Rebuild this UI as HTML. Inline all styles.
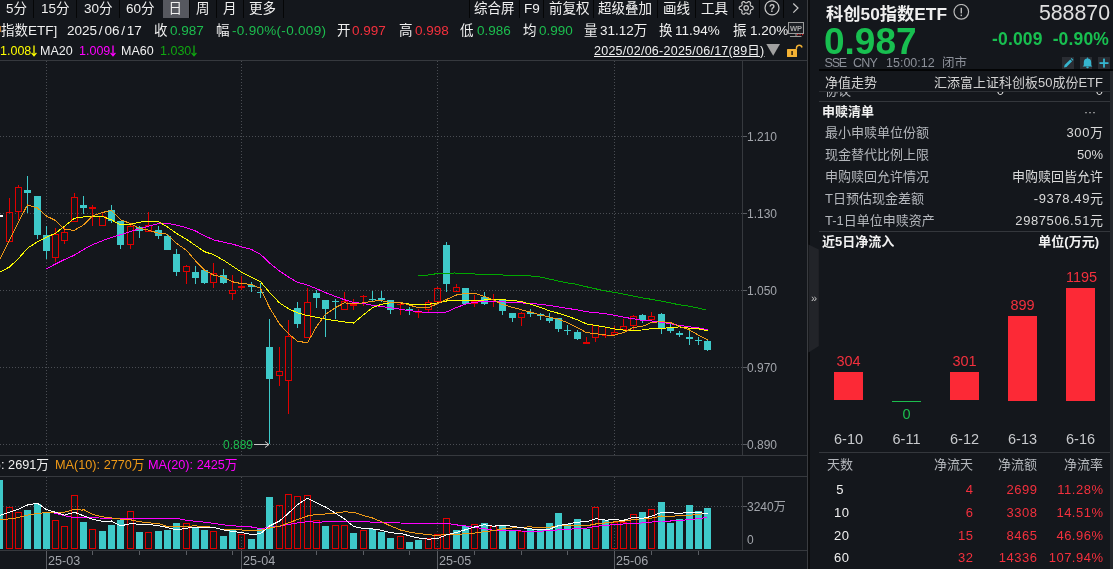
<!DOCTYPE html>
<html><head><meta charset="utf-8">
<style>
*{margin:0;padding:0;box-sizing:border-box}
html,body{width:1113px;height:569px;overflow:hidden;background:#14171c}
body{position:relative;font-family:"Liberation Sans","Noto Sans CJK SC",sans-serif;color:#d6d6d6}
.t{position:absolute;white-space:nowrap;line-height:16px;height:16px;font-size:13.5px}
.sl{margin:0 1.8px}
.ar{vertical-align:-2px;margin-left:-0.5px}
.s{position:absolute;background:#050607;width:1px;top:0;height:18px}
.g{color:#1cbd4e}.r{color:#f3303d}.w{color:#f0f0f0}.y{color:#ffff00}.m{color:#ff00ff}.gg{color:#10a810}
.ax{position:absolute;font-size:12px;line-height:14px;color:#a2a5ab;white-space:nowrap}
#rp{position:absolute;left:810px;top:0;width:303px;height:569px;background:#14171c}
.hl{position:absolute;height:1px;background:#36393e}
.lab{position:absolute;left:15px;font-size:13px;line-height:16px;color:#b4b7bc;white-space:nowrap}
.val{position:absolute;right:10px;font-size:13px;line-height:16px;color:#dadada;white-space:nowrap;text-align:right}

.bl{position:absolute;width:29px;text-align:center;font-size:14.5px;line-height:16px;white-space:nowrap}
.bx{position:absolute;width:29px;text-align:center;font-size:14.5px;line-height:16px;color:#c8cacd;white-space:nowrap}
.th{position:absolute;font-size:13px;line-height:16px;color:#b4b7bc;white-space:nowrap}
.sse{position:absolute;top:55px;font-size:12.5px;line-height:16px;color:#8c9099;white-space:nowrap}
.td{position:absolute;font-size:13px;line-height:16px;white-space:nowrap;letter-spacing:0.5px;margin-right:-0.5px}
</style></head><body>
<!-- top tab row -->
<div class="t" style="left:163px;top:0;width:26px;height:18px;background:#56585f"></div>
<div class="t w" style="left:6px;top:1px">5分</div>
<div class="s" style="left:33px"></div>
<div class="t w" style="left:41px;top:1px">15分</div>
<div class="s" style="left:76px"></div>
<div class="t w" style="left:84px;top:1px">30分</div>
<div class="s" style="left:119px"></div>
<div class="t w" style="left:126px;top:1px">60分</div>
<div class="t w" style="left:168.5px;top:1px">日</div>
<div class="s" style="left:189px"></div>
<div class="t w" style="left:196px;top:1px">周</div>
<div class="s" style="left:216px"></div>
<div class="t w" style="left:223px;top:1px">月</div>
<div class="s" style="left:243px"></div>
<div class="t w" style="left:249px;top:1px">更多</div>
<div class="s" style="left:283px"></div>

<div class="s" style="left:469px"></div>
<div class="t w" style="left:474px;top:1px">综合屏</div>
<div class="s" style="left:519px"></div>
<div class="t w" style="left:524px;top:1px">F9</div>
<div class="s" style="left:543px"></div>
<div class="t w" style="left:549px;top:1px">前复权</div>
<div class="s" style="left:593px"></div>
<div class="t w" style="left:598px;top:1px">超级叠加</div>
<div class="s" style="left:657px"></div>
<div class="t w" style="left:663px;top:1px">画线</div>
<div class="s" style="left:695px"></div>
<div class="t w" style="left:701px;top:1px">工具</div>
<div class="s" style="left:733px"></div>
<div class="s" style="left:759px"></div>
<div class="s" style="left:783px"></div>
<svg style="position:absolute;left:0;top:0" width="810" height="60" viewBox="0 0 810 60">
 <g fill="none" stroke="#c8c8c8" stroke-width="1.2">
  <path d="M753.15,7.90 L753.14,7.66 L753.09,7.42 L753.02,7.18 L752.91,6.96 L752.77,6.74 L752.59,6.54 L752.32,6.37 L751.67,6.33 L751.40,6.21 L751.21,6.08 L751.04,5.94 L750.90,5.81 L750.78,5.67 L750.67,5.52 L750.57,5.38 L750.49,5.22 L750.42,5.05 L750.36,4.88 L750.32,4.68 L750.28,4.48 L750.27,4.24 L750.30,3.95 L750.58,3.36 L750.57,3.05 L750.49,2.79 L750.37,2.56 L750.23,2.35 L750.06,2.17 L749.88,2.01 L749.68,1.88 L749.46,1.77 L749.23,1.69 L748.99,1.64 L748.74,1.62 L748.48,1.63 L748.22,1.69 L747.94,1.84 L747.58,2.38 L747.34,2.55 L747.13,2.65 L746.93,2.73 L746.74,2.78 L746.56,2.82 L746.38,2.84 L746.20,2.85 L746.02,2.84 L745.84,2.82 L745.66,2.78 L745.47,2.73 L745.27,2.65 L745.06,2.55 L744.82,2.38 L744.46,1.84 L744.18,1.69 L743.92,1.63 L743.66,1.62 L743.41,1.64 L743.17,1.69 L742.94,1.77 L742.73,1.88 L742.52,2.01 L742.34,2.17 L742.17,2.35 L742.03,2.56 L741.91,2.79 L741.83,3.05 L741.82,3.36 L742.10,3.95 L742.13,4.24 L742.12,4.48 L742.08,4.68 L742.04,4.88 L741.98,5.05 L741.91,5.22 L741.83,5.38 L741.73,5.52 L741.62,5.67 L741.50,5.81 L741.36,5.94 L741.19,6.08 L741.00,6.21 L740.73,6.33 L740.08,6.37 L739.81,6.54 L739.63,6.74 L739.49,6.96 L739.38,7.18 L739.31,7.42 L739.26,7.66 L739.25,7.90 L739.26,8.14 L739.31,8.38 L739.38,8.62 L739.49,8.84 L739.63,9.06 L739.81,9.26 L740.08,9.43 L740.73,9.47 L741.00,9.59 L741.19,9.72 L741.36,9.86 L741.50,9.99 L741.62,10.13 L741.73,10.28 L741.83,10.43 L741.91,10.58 L741.98,10.75 L742.04,10.92 L742.08,11.12 L742.12,11.32 L742.13,11.56 L742.10,11.85 L741.82,12.44 L741.83,12.75 L741.91,13.01 L742.03,13.24 L742.17,13.45 L742.34,13.63 L742.52,13.79 L742.73,13.92 L742.94,14.03 L743.17,14.11 L743.41,14.16 L743.66,14.18 L743.92,14.17 L744.18,14.11 L744.46,13.96 L744.82,13.42 L745.06,13.25 L745.27,13.15 L745.47,13.07 L745.66,13.02 L745.84,12.98 L746.02,12.96 L746.20,12.95 L746.38,12.96 L746.56,12.98 L746.74,13.02 L746.93,13.07 L747.13,13.15 L747.34,13.25 L747.58,13.42 L747.94,13.96 L748.22,14.11 L748.48,14.17 L748.74,14.18 L748.99,14.16 L749.23,14.11 L749.46,14.03 L749.68,13.92 L749.88,13.79 L750.06,13.63 L750.23,13.45 L750.37,13.24 L750.49,13.01 L750.57,12.75 L750.58,12.44 L750.30,11.85 L750.27,11.56 L750.28,11.32 L750.32,11.12 L750.36,10.92 L750.42,10.75 L750.49,10.58 L750.57,10.43 L750.67,10.28 L750.78,10.13 L750.90,9.99 L751.04,9.86 L751.21,9.72 L751.40,9.59 L751.67,9.47 L752.32,9.43 L752.59,9.26 L752.77,9.06 L752.91,8.84 L753.02,8.62 L753.09,8.38 L753.14,8.14 Z"/>
  <circle cx="746.2" cy="7.9" r="2.2"/>
  <circle cx="772" cy="7.9" r="7"/>
  <polyline points="793.3,3.5 798,8 793.3,12.6"/>
 </g>
 <text x="772" y="11.8" font-size="10" font-weight="bold" fill="#c8c8c8" text-anchor="middle" font-family="Liberation Sans">?</text>
 <!-- WP monitor -->
 <rect x="788.5" y="22.5" width="15" height="11" fill="#1c1f24" stroke="#9a9a9a"/>
 <text x="796" y="31" font-size="7.5" font-weight="bold" fill="#a8a8a8" text-anchor="middle" font-family="Liberation Sans">WP</text>
 <line x1="796" y1="34" x2="796" y2="36" stroke="#9a9a9a"/>
 <line x1="790" y1="36.5" x2="801.5" y2="36.5" stroke="#9a9a9a"/>
 <rect x="797" y="34" width="1.2" height="1.2" fill="#e02020"/><rect x="799.5" y="34" width="1.2" height="1.2" fill="#e02020"/><rect x="802" y="34" width="1.2" height="1.2" fill="#e02020"/>
 <!-- triangle -->
 <polygon points="766.3,44 780,44 773.2,55.7" fill="#a0a0a0"/>
 <!-- lock -->
 <rect x="787" y="49" width="10" height="8" fill="#f4b234" rx="0.5"/>
 <rect x="791.3" y="51" width="1.6" height="4" fill="#3a2a10"/>
 <path d="M796.5,49 L796.5,47.5 A2.8,2.8 0 0 1 802,47.5" fill="none" stroke="#f4b234" stroke-width="1.4"/>
</svg>

<!-- row 2 -->
<div style="position:absolute;left:0;top:26px;width:1px;height:6px;background:#b87020"></div>
<div class="t w" style="left:1px;top:22.5px">指数ETF]</div>
<div class="t w" style="left:67px;top:22.5px">2025<span class="sl">/</span>06<span class="sl">/</span>17</div>
<div class="t w" style="left:154px;top:22.5px">收</div>
<div class="t g" style="left:170px;top:22.5px">0.987</div>
<div class="t w" style="left:216px;top:22.5px">幅</div>
<div class="t g" style="left:232px;top:22.5px;letter-spacing:0.3px">-0.90%(-0.009)</div>
<div class="t w" style="left:337px;top:22.5px">开</div>
<div class="t r" style="left:352px;top:22.5px">0.997</div>
<div class="t w" style="left:399px;top:22.5px">高</div>
<div class="t r" style="left:415px;top:22.5px">0.998</div>
<div class="t w" style="left:460px;top:22.5px">低</div>
<div class="t g" style="left:477px;top:22.5px">0.986</div>
<div class="t w" style="left:523px;top:22.5px">均</div>
<div class="t g" style="left:539px;top:22.5px">0.990</div>
<div class="t w" style="left:584px;top:22.5px">量</div>
<div class="t w" style="left:600px;top:22.5px">31.12万</div>
<div class="t w" style="left:659px;top:22.5px">换</div>
<div class="t w" style="left:675px;top:22.5px">11.94%</div>
<div class="t w" style="left:733px;top:22.5px">振</div>
<div class="t w" style="left:750px;top:22.5px">1.20%</div>

<!-- row 3 -->
<div class="t y" style="left:0;top:42.7px;font-size:12.5px">1.008<svg class="ar" width="6" height="12" viewBox="0 0 6 12"><path d="M3,0.5 V10.8 M0.6,7.8 L3,10.8 L5.4,7.8" fill="none" stroke="currentColor" stroke-width="1.3"/></svg></div>
<div class="t w" style="left:40px;top:42.7px;font-size:12.5px">MA20</div>
<div class="t m" style="left:79px;top:42.7px;font-size:12.5px">1.009<svg class="ar" width="6" height="12" viewBox="0 0 6 12"><path d="M3,0.5 V10.8 M0.6,7.8 L3,10.8 L5.4,7.8" fill="none" stroke="currentColor" stroke-width="1.3"/></svg></div>
<div class="t w" style="left:121px;top:42.7px;font-size:12.5px">MA60</div>
<div class="t gg" style="left:160px;top:42.7px;font-size:12.5px">1.030<svg class="ar" width="6" height="12" viewBox="0 0 6 12"><path d="M3,0.5 V10.8 M0.6,7.8 L3,10.8 L5.4,7.8" fill="none" stroke="currentColor" stroke-width="1.3"/></svg></div>
<div class="t w" style="left:594px;top:42.7px;font-size:12.5px;text-decoration:underline;letter-spacing:0.25px">2025/02/06-2025/06/17(89日)</div>

<!-- chart frame lines -->
<div class="hl" style="left:0;top:60px;width:807px"></div>
<div class="hl" style="left:0;top:455px;width:807px"></div>
<div class="hl" style="left:0;top:476px;width:807px"></div>
<div class="hl" style="left:0;top:550px;width:807px"></div>
<div style="position:absolute;left:742px;top:60px;width:1px;height:395px;background:#36393e"></div>
<div style="position:absolute;left:742px;top:476px;width:1px;height:75px;background:#36393e"></div>
<div style="position:absolute;left:807px;top:0;width:1px;height:569px;background:#3a3c40"></div>
<div style="position:absolute;left:808px;top:0;width:2px;height:569px;background:#0b0c0e"></div>

<svg style="position:absolute;left:0;top:0" width="808" height="569" viewBox="0 0 808 569">
<line x1="0" y1="136.5" x2="743" y2="136.5" stroke="#4a4d53" stroke-width="1" stroke-dasharray="1 2"/>
<line x1="0" y1="213.5" x2="743" y2="213.5" stroke="#4a4d53" stroke-width="1" stroke-dasharray="1 2"/>
<line x1="0" y1="290.5" x2="743" y2="290.5" stroke="#4a4d53" stroke-width="1" stroke-dasharray="1 2"/>
<line x1="0" y1="367.5" x2="743" y2="367.5" stroke="#4a4d53" stroke-width="1" stroke-dasharray="1 2"/>
<line x1="0" y1="444.5" x2="743" y2="444.5" stroke="#4a4d53" stroke-width="1" stroke-dasharray="1 2"/>
<line x1="46.5" y1="61" x2="46.5" y2="455" stroke="#4a4d53" stroke-width="1" stroke-dasharray="1 2"/>
<line x1="46.5" y1="477" x2="46.5" y2="550" stroke="#4a4d53" stroke-width="1" stroke-dasharray="1 2"/>
<line x1="241.5" y1="61" x2="241.5" y2="455" stroke="#4a4d53" stroke-width="1" stroke-dasharray="1 2"/>
<line x1="241.5" y1="477" x2="241.5" y2="550" stroke="#4a4d53" stroke-width="1" stroke-dasharray="1 2"/>
<line x1="437.5" y1="61" x2="437.5" y2="455" stroke="#4a4d53" stroke-width="1" stroke-dasharray="1 2"/>
<line x1="437.5" y1="477" x2="437.5" y2="550" stroke="#4a4d53" stroke-width="1" stroke-dasharray="1 2"/>
<line x1="614.5" y1="61" x2="614.5" y2="455" stroke="#4a4d53" stroke-width="1" stroke-dasharray="1 2"/>
<line x1="614.5" y1="477" x2="614.5" y2="550" stroke="#4a4d53" stroke-width="1" stroke-dasharray="1 2"/>
<line x1="0" y1="506.5" x2="743" y2="506.5" stroke="#4a4d53" stroke-width="1" stroke-dasharray="1 2"/>
<line x1="743" y1="136.5" x2="747" y2="136.5" stroke="#5a5d63" stroke-width="1"/>
<line x1="743" y1="213.5" x2="747" y2="213.5" stroke="#5a5d63" stroke-width="1"/>
<line x1="743" y1="290.5" x2="747" y2="290.5" stroke="#5a5d63" stroke-width="1"/>
<line x1="743" y1="367.5" x2="747" y2="367.5" stroke="#5a5d63" stroke-width="1"/>
<line x1="743" y1="444.5" x2="747" y2="444.5" stroke="#5a5d63" stroke-width="1"/>
<line x1="743" y1="506.5" x2="747" y2="506.5" stroke="#5a5d63" stroke-width="1"/>
<g shape-rendering="crispEdges"><rect x="6.5" y="212.5" width="6" height="29" fill="none" stroke="#e00000"/>
<line x1="9.5" y1="198" x2="9.5" y2="212" stroke="#e00000"/>
<rect x="15.5" y="187.5" width="6" height="24" fill="none" stroke="#e00000"/>
<line x1="18.5" y1="185" x2="18.5" y2="187" stroke="#e00000"/>
<line x1="18.5" y1="212" x2="18.5" y2="220" stroke="#e00000"/>
<rect x="24" y="190" width="7" height="3" fill="#3ec9c9"/>
<line x1="27.5" y1="176" x2="27.5" y2="190" stroke="#3ec9c9"/>
<line x1="27.5" y1="193" x2="27.5" y2="213" stroke="#3ec9c9"/>
<rect x="34" y="196" width="7" height="39" fill="#3ec9c9"/>
<line x1="37.5" y1="235" x2="37.5" y2="239" stroke="#3ec9c9"/>
<rect x="43" y="235" width="7" height="16" fill="#3ec9c9"/>
<line x1="46.5" y1="226" x2="46.5" y2="235" stroke="#3ec9c9"/>
<line x1="46.5" y1="251" x2="46.5" y2="259" stroke="#3ec9c9"/>
<rect x="52.5" y="234.5" width="6" height="23" fill="none" stroke="#e00000"/>
<line x1="55.5" y1="228" x2="55.5" y2="234" stroke="#e00000"/>
<line x1="55.5" y1="258" x2="55.5" y2="262" stroke="#e00000"/>
<rect x="61.5" y="232.5" width="6" height="8" fill="none" stroke="#e00000"/>
<line x1="64.5" y1="227" x2="64.5" y2="232" stroke="#e00000"/>
<line x1="64.5" y1="241" x2="64.5" y2="244" stroke="#e00000"/>
<rect x="71.5" y="197.5" width="6" height="24" fill="none" stroke="#e00000"/>
<line x1="74.5" y1="193" x2="74.5" y2="197" stroke="#e00000"/>
<rect x="80" y="205" width="7" height="3" fill="#3ec9c9"/>
<line x1="83.5" y1="196" x2="83.5" y2="205" stroke="#3ec9c9"/>
<line x1="83.5" y1="208" x2="83.5" y2="214" stroke="#3ec9c9"/>
<rect x="89" y="207" width="7" height="2" fill="#e00000"/>
<line x1="92.5" y1="205" x2="92.5" y2="226" stroke="#e00000"/>
<rect x="99.5" y="216.5" width="6" height="9" fill="none" stroke="#e00000"/>
<line x1="102.5" y1="213" x2="102.5" y2="216" stroke="#e00000"/>
<rect x="108" y="210" width="7" height="11" fill="#3ec9c9"/>
<line x1="111.5" y1="205" x2="111.5" y2="210" stroke="#3ec9c9"/>
<line x1="111.5" y1="221" x2="111.5" y2="223" stroke="#3ec9c9"/>
<rect x="117" y="221" width="7" height="24" fill="#3ec9c9"/>
<line x1="120.5" y1="245" x2="120.5" y2="249" stroke="#3ec9c9"/>
<rect x="127.5" y="226.5" width="6" height="18" fill="none" stroke="#e00000"/>
<line x1="130.5" y1="225" x2="130.5" y2="226" stroke="#e00000"/>
<line x1="130.5" y1="245" x2="130.5" y2="249" stroke="#e00000"/>
<rect x="136" y="227" width="7" height="4" fill="#3ec9c9"/>
<line x1="139.5" y1="226" x2="139.5" y2="227" stroke="#3ec9c9"/>
<line x1="139.5" y1="231" x2="139.5" y2="238" stroke="#3ec9c9"/>
<rect x="145.5" y="225.5" width="6" height="6" fill="none" stroke="#e00000"/>
<line x1="148.5" y1="212" x2="148.5" y2="225" stroke="#e00000"/>
<rect x="155" y="230" width="7" height="6" fill="#3ec9c9"/>
<line x1="158.5" y1="226" x2="158.5" y2="230" stroke="#3ec9c9"/>
<line x1="158.5" y1="236" x2="158.5" y2="239" stroke="#3ec9c9"/>
<rect x="164" y="236" width="7" height="14" fill="#3ec9c9"/>
<line x1="167.5" y1="235" x2="167.5" y2="236" stroke="#3ec9c9"/>
<rect x="173" y="254" width="7" height="18" fill="#3ec9c9"/>
<line x1="176.5" y1="249" x2="176.5" y2="254" stroke="#3ec9c9"/>
<line x1="176.5" y1="272" x2="176.5" y2="276" stroke="#3ec9c9"/>
<rect x="183.5" y="266.5" width="6" height="5" fill="none" stroke="#e00000"/>
<line x1="186.5" y1="265" x2="186.5" y2="266" stroke="#e00000"/>
<line x1="186.5" y1="272" x2="186.5" y2="284" stroke="#e00000"/>
<rect x="192" y="272" width="7" height="6" fill="#3ec9c9"/>
<line x1="195.5" y1="266" x2="195.5" y2="272" stroke="#3ec9c9"/>
<line x1="195.5" y1="278" x2="195.5" y2="284" stroke="#3ec9c9"/>
<rect x="201" y="270" width="7" height="13" fill="#3ec9c9"/>
<line x1="204.5" y1="283" x2="204.5" y2="284" stroke="#3ec9c9"/>
<rect x="210.5" y="273.5" width="6" height="9" fill="none" stroke="#e00000"/>
<line x1="213.5" y1="263" x2="213.5" y2="273" stroke="#e00000"/>
<line x1="213.5" y1="283" x2="213.5" y2="288" stroke="#e00000"/>
<rect x="220" y="275" width="7" height="8" fill="#3ec9c9"/>
<line x1="223.5" y1="269" x2="223.5" y2="275" stroke="#3ec9c9"/>
<line x1="223.5" y1="283" x2="223.5" y2="284" stroke="#3ec9c9"/>
<rect x="229.5" y="290.5" width="6" height="3" fill="none" stroke="#e00000"/>
<line x1="232.5" y1="275" x2="232.5" y2="290" stroke="#e00000"/>
<line x1="232.5" y1="294" x2="232.5" y2="300" stroke="#e00000"/>
<rect x="238" y="286" width="7" height="2" fill="#e00000"/>
<line x1="241.5" y1="276" x2="241.5" y2="290" stroke="#e00000"/>
<rect x="248" y="285" width="7" height="2" fill="#3ec9c9"/>
<line x1="251.5" y1="282" x2="251.5" y2="285" stroke="#3ec9c9"/>
<line x1="251.5" y1="287" x2="251.5" y2="292" stroke="#3ec9c9"/>
<rect x="257" y="292" width="7" height="1" fill="#3ec9c9"/>
<line x1="260.5" y1="283" x2="260.5" y2="298" stroke="#3ec9c9"/>
<rect x="266" y="347" width="7" height="32" fill="#3ec9c9"/>
<line x1="269.5" y1="319" x2="269.5" y2="347" stroke="#3ec9c9"/>
<line x1="269.5" y1="379" x2="269.5" y2="444" stroke="#3ec9c9"/>
<rect x="276.5" y="371.5" width="6" height="4" fill="none" stroke="#e00000"/>
<line x1="279.5" y1="347" x2="279.5" y2="371" stroke="#e00000"/>
<line x1="279.5" y1="376" x2="279.5" y2="386" stroke="#e00000"/>
<rect x="285.5" y="336.5" width="6" height="44" fill="none" stroke="#e00000"/>
<line x1="288.5" y1="320" x2="288.5" y2="336" stroke="#e00000"/>
<line x1="288.5" y1="381" x2="288.5" y2="414" stroke="#e00000"/>
<rect x="294" y="308" width="7" height="16" fill="#3ec9c9"/>
<line x1="297.5" y1="302" x2="297.5" y2="308" stroke="#3ec9c9"/>
<line x1="297.5" y1="324" x2="297.5" y2="328" stroke="#3ec9c9"/>
<rect x="304.5" y="302.5" width="6" height="35" fill="none" stroke="#e00000"/>
<line x1="307.5" y1="288" x2="307.5" y2="302" stroke="#e00000"/>
<rect x="313" y="293" width="7" height="5" fill="#3ec9c9"/>
<line x1="316.5" y1="290" x2="316.5" y2="293" stroke="#3ec9c9"/>
<line x1="316.5" y1="298" x2="316.5" y2="308" stroke="#3ec9c9"/>
<rect x="322" y="300" width="7" height="9" fill="#3ec9c9"/>
<line x1="325.5" y1="309" x2="325.5" y2="337" stroke="#3ec9c9"/>
<rect x="332" y="301" width="7" height="1" fill="#3ec9c9"/>
<line x1="335.5" y1="299" x2="335.5" y2="319" stroke="#3ec9c9"/>
<rect x="341.5" y="301.5" width="6" height="8" fill="none" stroke="#e00000"/>
<line x1="344.5" y1="292" x2="344.5" y2="301" stroke="#e00000"/>
<rect x="350" y="304" width="7" height="2" fill="#e00000"/>
<line x1="353.5" y1="299" x2="353.5" y2="310" stroke="#e00000"/>
<rect x="360" y="296" width="7" height="1" fill="#e00000"/>
<line x1="363.5" y1="295" x2="363.5" y2="306" stroke="#e00000"/>
<rect x="369" y="299" width="7" height="1" fill="#3ec9c9"/>
<line x1="372.5" y1="291" x2="372.5" y2="301" stroke="#3ec9c9"/>
<rect x="378" y="298" width="7" height="2" fill="#3ec9c9"/>
<line x1="381.5" y1="291" x2="381.5" y2="298" stroke="#3ec9c9"/>
<line x1="381.5" y1="300" x2="381.5" y2="302" stroke="#3ec9c9"/>
<rect x="387" y="300" width="7" height="10" fill="#3ec9c9"/>
<line x1="390.5" y1="310" x2="390.5" y2="314" stroke="#3ec9c9"/>
<rect x="397" y="304" width="7" height="1" fill="#e00000"/>
<line x1="400.5" y1="302" x2="400.5" y2="315" stroke="#e00000"/>
<rect x="406" y="309" width="7" height="1" fill="#3ec9c9"/>
<line x1="409.5" y1="307" x2="409.5" y2="315" stroke="#3ec9c9"/>
<rect x="415" y="312" width="7" height="1" fill="#e00000"/>
<line x1="418.5" y1="309" x2="418.5" y2="318" stroke="#e00000"/>
<rect x="425.5" y="302.5" width="6" height="7" fill="none" stroke="#e00000"/>
<line x1="428.5" y1="300" x2="428.5" y2="302" stroke="#e00000"/>
<line x1="428.5" y1="310" x2="428.5" y2="312" stroke="#e00000"/>
<rect x="434.5" y="288.5" width="6" height="13" fill="none" stroke="#e00000"/>
<line x1="437.5" y1="287" x2="437.5" y2="288" stroke="#e00000"/>
<rect x="443" y="245" width="7" height="39" fill="#3ec9c9"/>
<line x1="446.5" y1="242" x2="446.5" y2="245" stroke="#3ec9c9"/>
<line x1="446.5" y1="284" x2="446.5" y2="292" stroke="#3ec9c9"/>
<rect x="453.5" y="287.5" width="6" height="4" fill="none" stroke="#e00000"/>
<line x1="456.5" y1="284" x2="456.5" y2="287" stroke="#e00000"/>
<rect x="462" y="288" width="7" height="16" fill="#3ec9c9"/>
<line x1="465.5" y1="304" x2="465.5" y2="305" stroke="#3ec9c9"/>
<rect x="471.5" y="301.5" width="6" height="2" fill="none" stroke="#e00000"/>
<line x1="474.5" y1="295" x2="474.5" y2="301" stroke="#e00000"/>
<line x1="474.5" y1="304" x2="474.5" y2="307" stroke="#e00000"/>
<rect x="481" y="297" width="7" height="7" fill="#3ec9c9"/>
<line x1="484.5" y1="292" x2="484.5" y2="297" stroke="#3ec9c9"/>
<line x1="484.5" y1="304" x2="484.5" y2="305" stroke="#3ec9c9"/>
<rect x="490" y="301" width="7" height="1" fill="#e00000"/>
<line x1="493.5" y1="294" x2="493.5" y2="307" stroke="#e00000"/>
<rect x="499" y="300" width="7" height="11" fill="#3ec9c9"/>
<line x1="502.5" y1="311" x2="502.5" y2="315" stroke="#3ec9c9"/>
<rect x="509" y="313" width="7" height="5" fill="#3ec9c9"/>
<line x1="512.5" y1="318" x2="512.5" y2="322" stroke="#3ec9c9"/>
<rect x="518.5" y="313.5" width="6" height="4" fill="none" stroke="#e00000"/>
<line x1="521.5" y1="312" x2="521.5" y2="313" stroke="#e00000"/>
<line x1="521.5" y1="318" x2="521.5" y2="326" stroke="#e00000"/>
<rect x="527" y="312" width="7" height="2" fill="#3ec9c9"/>
<line x1="530.5" y1="309" x2="530.5" y2="312" stroke="#3ec9c9"/>
<line x1="530.5" y1="314" x2="530.5" y2="317" stroke="#3ec9c9"/>
<rect x="537" y="314" width="7" height="2" fill="#3ec9c9"/>
<line x1="540.5" y1="313" x2="540.5" y2="314" stroke="#3ec9c9"/>
<line x1="540.5" y1="316" x2="540.5" y2="320" stroke="#3ec9c9"/>
<rect x="546" y="318" width="7" height="3" fill="#3ec9c9"/>
<line x1="549.5" y1="313" x2="549.5" y2="318" stroke="#3ec9c9"/>
<line x1="549.5" y1="321" x2="549.5" y2="323" stroke="#3ec9c9"/>
<rect x="555" y="318" width="7" height="11" fill="#3ec9c9"/>
<line x1="558.5" y1="329" x2="558.5" y2="332" stroke="#3ec9c9"/>
<rect x="564" y="330" width="7" height="1" fill="#3ec9c9"/>
<line x1="567.5" y1="325" x2="567.5" y2="335" stroke="#3ec9c9"/>
<rect x="574" y="332" width="7" height="7" fill="#3ec9c9"/>
<line x1="577.5" y1="330" x2="577.5" y2="332" stroke="#3ec9c9"/>
<line x1="577.5" y1="339" x2="577.5" y2="340" stroke="#3ec9c9"/>
<rect x="583" y="342" width="7" height="2" fill="#e00000"/>
<line x1="586.5" y1="337" x2="586.5" y2="344" stroke="#e00000"/>
<rect x="592.5" y="325.5" width="6" height="12" fill="none" stroke="#e00000"/>
<line x1="595.5" y1="338" x2="595.5" y2="342" stroke="#e00000"/>
<rect x="602" y="335" width="7" height="1" fill="#e00000"/>
<line x1="605.5" y1="328" x2="605.5" y2="338" stroke="#e00000"/>
<rect x="611.5" y="332.5" width="6" height="2" fill="none" stroke="#e00000"/>
<line x1="614.5" y1="326" x2="614.5" y2="332" stroke="#e00000"/>
<rect x="620.5" y="326.5" width="6" height="3" fill="none" stroke="#e00000"/>
<line x1="623.5" y1="319" x2="623.5" y2="326" stroke="#e00000"/>
<rect x="630.5" y="316.5" width="6" height="9" fill="none" stroke="#e00000"/>
<line x1="633.5" y1="315" x2="633.5" y2="316" stroke="#e00000"/>
<line x1="633.5" y1="326" x2="633.5" y2="330" stroke="#e00000"/>
<rect x="639" y="315" width="7" height="5" fill="#3ec9c9"/>
<line x1="642.5" y1="314" x2="642.5" y2="315" stroke="#3ec9c9"/>
<line x1="642.5" y1="320" x2="642.5" y2="323" stroke="#3ec9c9"/>
<rect x="648.5" y="316.5" width="6" height="3" fill="none" stroke="#e00000"/>
<line x1="651.5" y1="312" x2="651.5" y2="316" stroke="#e00000"/>
<rect x="658" y="314" width="7" height="14" fill="#3ec9c9"/>
<line x1="661.5" y1="313" x2="661.5" y2="314" stroke="#3ec9c9"/>
<line x1="661.5" y1="328" x2="661.5" y2="334" stroke="#3ec9c9"/>
<rect x="667" y="328" width="7" height="3" fill="#3ec9c9"/>
<line x1="670.5" y1="324" x2="670.5" y2="328" stroke="#3ec9c9"/>
<line x1="670.5" y1="331" x2="670.5" y2="333" stroke="#3ec9c9"/>
<rect x="676" y="333" width="7" height="2" fill="#3ec9c9"/>
<line x1="679.5" y1="331" x2="679.5" y2="337" stroke="#3ec9c9"/>
<rect x="686" y="337" width="7" height="2" fill="#3ec9c9"/>
<line x1="689.5" y1="331" x2="689.5" y2="345" stroke="#3ec9c9"/>
<rect x="695" y="340" width="7" height="1" fill="#3ec9c9"/>
<line x1="698.5" y1="337" x2="698.5" y2="345" stroke="#3ec9c9"/>
<rect x="704" y="341" width="7" height="9" fill="#3ec9c9"/>
<line x1="707.5" y1="340" x2="707.5" y2="341" stroke="#3ec9c9"/>
<line x1="707.5" y1="350" x2="707.5" y2="351" stroke="#3ec9c9"/>
<rect x="-4" y="480" width="7" height="69" fill="#3ec9c9"/>
<rect x="6.5" y="507.5" width="6" height="41" fill="none" stroke="#e00000"/>
<rect x="15.5" y="512.5" width="6" height="36" fill="none" stroke="#e00000"/>
<rect x="24" y="510" width="7" height="39" fill="#3ec9c9"/>
<rect x="34" y="504" width="7" height="45" fill="#3ec9c9"/>
<rect x="43" y="512" width="7" height="37" fill="#3ec9c9"/>
<rect x="52.5" y="520.5" width="6" height="28" fill="none" stroke="#e00000"/>
<rect x="61.5" y="526.5" width="6" height="22" fill="none" stroke="#e00000"/>
<rect x="71.5" y="495.5" width="6" height="53" fill="none" stroke="#e00000"/>
<rect x="80" y="522" width="7" height="27" fill="#3ec9c9"/>
<rect x="89.5" y="529.5" width="6" height="19" fill="none" stroke="#e00000"/>
<rect x="99" y="531" width="7" height="18" fill="#3ec9c9"/>
<rect x="108" y="525" width="7" height="24" fill="#3ec9c9"/>
<rect x="117" y="520" width="7" height="29" fill="#3ec9c9"/>
<rect x="127.5" y="511.5" width="6" height="37" fill="none" stroke="#e00000"/>
<rect x="136" y="532" width="7" height="17" fill="#3ec9c9"/>
<rect x="145.5" y="532.5" width="6" height="16" fill="none" stroke="#e00000"/>
<rect x="155" y="531" width="7" height="18" fill="#3ec9c9"/>
<rect x="164" y="530" width="7" height="19" fill="#3ec9c9"/>
<rect x="173" y="523" width="7" height="26" fill="#3ec9c9"/>
<rect x="183.5" y="523.5" width="6" height="25" fill="none" stroke="#e00000"/>
<rect x="192" y="528" width="7" height="21" fill="#3ec9c9"/>
<rect x="201" y="530" width="7" height="19" fill="#3ec9c9"/>
<rect x="210.5" y="531.5" width="6" height="17" fill="none" stroke="#e00000"/>
<rect x="220" y="536" width="7" height="13" fill="#3ec9c9"/>
<rect x="229" y="530" width="7" height="19" fill="#3ec9c9"/>
<rect x="238.5" y="534.5" width="6" height="14" fill="none" stroke="#e00000"/>
<rect x="248" y="539" width="7" height="10" fill="#3ec9c9"/>
<rect x="257" y="528" width="7" height="21" fill="#3ec9c9"/>
<rect x="266" y="497" width="7" height="52" fill="#3ec9c9"/>
<rect x="276.5" y="505.5" width="6" height="43" fill="none" stroke="#e00000"/>
<rect x="285.5" y="494.5" width="6" height="54" fill="none" stroke="#e00000"/>
<rect x="294.5" y="496.5" width="6" height="52" fill="none" stroke="#e00000"/>
<rect x="304.5" y="495.5" width="6" height="53" fill="none" stroke="#e00000"/>
<rect x="313.5" y="520.5" width="6" height="28" fill="none" stroke="#e00000"/>
<rect x="322" y="526" width="7" height="23" fill="#3ec9c9"/>
<rect x="332.5" y="525.5" width="6" height="23" fill="none" stroke="#e00000"/>
<rect x="341.5" y="525.5" width="6" height="23" fill="none" stroke="#e00000"/>
<rect x="350" y="533" width="7" height="16" fill="#3ec9c9"/>
<rect x="360.5" y="530.5" width="6" height="18" fill="none" stroke="#e00000"/>
<rect x="369" y="529" width="7" height="20" fill="#3ec9c9"/>
<rect x="378" y="532" width="7" height="17" fill="#3ec9c9"/>
<rect x="387" y="538" width="7" height="11" fill="#3ec9c9"/>
<rect x="397.5" y="536.5" width="6" height="12" fill="none" stroke="#e00000"/>
<rect x="406" y="542" width="7" height="7" fill="#3ec9c9"/>
<rect x="415" y="540" width="7" height="9" fill="#3ec9c9"/>
<rect x="425.5" y="538.5" width="6" height="10" fill="none" stroke="#e00000"/>
<rect x="434.5" y="534.5" width="6" height="14" fill="none" stroke="#e00000"/>
<rect x="443.5" y="518.5" width="6" height="30" fill="none" stroke="#e00000"/>
<rect x="453" y="530" width="7" height="19" fill="#3ec9c9"/>
<rect x="462" y="526" width="7" height="23" fill="#3ec9c9"/>
<rect x="471.5" y="524.5" width="6" height="24" fill="none" stroke="#e00000"/>
<rect x="481" y="523" width="7" height="26" fill="#3ec9c9"/>
<rect x="490.5" y="526.5" width="6" height="22" fill="none" stroke="#e00000"/>
<rect x="499" y="525" width="7" height="24" fill="#3ec9c9"/>
<rect x="509" y="531" width="7" height="18" fill="#3ec9c9"/>
<rect x="518.5" y="531.5" width="6" height="17" fill="none" stroke="#e00000"/>
<rect x="527" y="529" width="7" height="20" fill="#3ec9c9"/>
<rect x="537" y="530" width="7" height="19" fill="#3ec9c9"/>
<rect x="546" y="523" width="7" height="26" fill="#3ec9c9"/>
<rect x="555" y="513" width="7" height="36" fill="#3ec9c9"/>
<rect x="564" y="524" width="7" height="25" fill="#3ec9c9"/>
<rect x="574" y="519" width="7" height="30" fill="#3ec9c9"/>
<rect x="583" y="529" width="7" height="20" fill="#3ec9c9"/>
<rect x="592.5" y="507.5" width="6" height="41" fill="none" stroke="#e00000"/>
<rect x="602" y="520" width="7" height="29" fill="#3ec9c9"/>
<rect x="611.5" y="522.5" width="6" height="26" fill="none" stroke="#e00000"/>
<rect x="620.5" y="522.5" width="6" height="26" fill="none" stroke="#e00000"/>
<rect x="630.5" y="514.5" width="6" height="34" fill="none" stroke="#e00000"/>
<rect x="639" y="512" width="7" height="37" fill="#3ec9c9"/>
<rect x="648.5" y="509.5" width="6" height="39" fill="none" stroke="#e00000"/>
<rect x="658" y="502" width="7" height="47" fill="#3ec9c9"/>
<rect x="667" y="523" width="7" height="26" fill="#3ec9c9"/>
<rect x="676" y="519" width="7" height="30" fill="#3ec9c9"/>
<rect x="686" y="505" width="7" height="44" fill="#3ec9c9"/>
<rect x="695" y="511" width="7" height="38" fill="#3ec9c9"/>
<rect x="704" y="508" width="7" height="41" fill="#3ec9c9"/></g>
<polyline points="418.0,276.0 427.3,275.1 436.5,273.7 445.8,273.2 455.1,273.0 464.4,273.7 473.7,273.8 483.0,274.9 492.2,274.9 501.5,274.9 510.8,275.7 520.1,275.9 529.4,275.9 538.7,276.7 548.0,278.7 557.2,280.8 566.5,282.7 575.8,284.2 585.1,286.5 594.4,288.5 603.7,290.7 612.9,292.1 622.2,293.8 631.5,295.7 640.8,297.7 650.1,299.1 659.3,300.7 668.6,302.6 677.9,304.5 687.2,305.9 696.5,307.7 705.8,309.9" fill="none" stroke="#00a800" stroke-width="1" shape-rendering="crispEdges"/>
<polyline points="46.5,268.7 55.5,264.0 64.5,259.5 74.5,255.1 83.5,249.5 92.5,244.7 102.5,240.7 111.5,237.4 120.5,234.7 130.5,231.5 139.5,228.8 148.5,226.2 158.5,223.6 167.5,223.1 176.5,225.2 186.5,227.7 195.5,231.0 204.5,235.8 213.5,239.8 223.5,242.2 232.5,244.1 241.5,246.8 251.5,249.5 260.5,254.3 269.5,262.9 279.5,271.1 288.5,277.1 297.5,282.3 307.5,285.1 316.5,288.7 325.5,292.6 335.5,296.5 344.5,299.7 353.5,302.4 363.5,303.6 372.5,305.3 381.5,306.4 390.5,307.8 400.5,309.3 409.5,310.6 418.5,311.7 428.5,312.5 437.5,312.5 446.5,312.0 456.5,307.5 465.5,304.1 474.5,302.4 484.5,301.4 493.5,301.3 502.5,301.9 512.5,302.4 521.5,302.9 530.5,303.6 540.5,304.2 549.5,305.5 558.5,306.9 567.5,308.4 577.5,309.9 586.5,311.8 595.5,312.6 605.5,313.8 614.5,315.2 623.5,317.2 633.5,318.8 642.5,320.4 651.5,321.0 661.5,322.3 670.5,323.7 679.5,325.4 689.5,326.8 698.5,327.9 707.5,329.8" fill="none" stroke="#ff00ff" stroke-width="1" shape-rendering="crispEdges"/>
<polyline points="0.0,272.0 9.5,267.0 18.5,258.5 27.5,248.2 37.5,241.8 46.5,237.3 55.5,233.2 64.5,226.3 74.5,218.2 83.5,216.9 92.5,216.1 102.5,216.5 111.5,219.8 120.5,225.0 130.5,224.2 139.5,222.2 148.5,221.3 158.5,221.7 167.5,227.0 176.5,233.4 186.5,239.3 195.5,245.5 204.5,251.7 213.5,254.6 223.5,260.2 232.5,266.1 241.5,272.2 251.5,277.3 260.5,281.7 269.5,292.4 279.5,302.9 288.5,308.7 297.5,312.8 307.5,315.6 316.5,317.2 325.5,319.1 335.5,320.7 344.5,322.0 353.5,323.1 363.5,314.8 372.5,307.7 381.5,304.2 390.5,302.7 400.5,302.9 409.5,304.1 418.5,304.4 428.5,304.3 437.5,303.0 446.5,301.0 456.5,300.1 465.5,300.6 474.5,300.6 484.5,300.0 493.5,299.7 502.5,299.8 512.5,300.4 521.5,301.6 530.5,304.2 540.5,307.5 549.5,310.8 558.5,313.3 567.5,316.2 577.5,319.8 586.5,323.9 595.5,325.4 605.5,327.1 614.5,328.9 623.5,330.1 633.5,330.1 642.5,330.0 651.5,328.7 661.5,328.4 670.5,327.6 679.5,326.9 689.5,328.2 698.5,328.8 707.5,330.7" fill="none" stroke="#ffff00" stroke-width="1" shape-rendering="crispEdges"/>
<polyline points="0.0,258.7 9.5,240.0 18.5,221.8 27.5,204.8 37.5,208.0 46.5,216.1 55.5,220.5 64.5,229.4 74.5,230.3 83.5,224.9 92.5,216.0 102.5,212.5 111.5,210.3 120.5,219.8 130.5,223.5 139.5,228.3 148.5,230.2 158.5,233.2 167.5,234.2 176.5,243.3 186.5,250.4 195.5,260.8 204.5,270.2 213.5,275.0 223.5,277.2 232.5,281.8 241.5,283.6 251.5,284.4 260.5,288.4 269.5,307.6 279.5,323.9 288.5,333.8 297.5,341.2 307.5,342.8 316.5,326.7 325.5,314.3 335.5,307.6 344.5,302.9 353.5,303.5 363.5,302.9 372.5,301.1 381.5,300.8 390.5,302.5 400.5,302.4 409.5,305.2 418.5,307.6 428.5,307.9 437.5,303.5 446.5,299.5 456.5,295.0 465.5,293.5 474.5,293.3 484.5,296.5 493.5,299.9 502.5,304.6 512.5,307.3 521.5,309.8 530.5,312.0 540.5,315.1 549.5,317.1 558.5,319.2 567.5,322.7 577.5,327.6 586.5,332.7 595.5,333.6 605.5,335.0 614.5,335.1 623.5,332.6 633.5,327.4 642.5,326.4 651.5,322.4 661.5,321.7 670.5,322.6 679.5,326.3 689.5,330.0 698.5,335.2 707.5,339.6" fill="none" stroke="#f09a17" stroke-width="1" shape-rendering="crispEdges"/>
<polyline points="46.3,512.3 55.3,513.1 62.8,515.3 71.7,517.1 83.7,517.1 98.6,518.0 125.5,518.3 140.0,518.3 176.5,518.2 186.5,520.3 195.5,521.3 204.5,522.2 213.5,523.3 223.5,524.8 232.5,525.8 241.5,526.4 251.5,527.0 260.5,528.7 269.5,527.4 279.5,526.2 288.5,524.4 297.5,522.9 307.5,521.7 316.5,522.2 325.5,521.9 335.5,521.6 344.5,521.3 353.5,521.4 363.5,521.8 372.5,522.1 381.5,522.3 390.5,522.7 400.5,523.0 409.5,523.3 418.5,523.7 428.5,523.9 437.5,523.7 446.5,523.2 456.5,524.9 465.5,525.9 474.5,527.4 484.5,528.7 493.5,530.3 502.5,530.5 512.5,530.8 521.5,531.0 530.5,531.2 540.5,531.1 549.5,530.7 558.5,529.9 567.5,529.5 577.5,528.5 586.5,528.2 595.5,526.4 605.5,525.4 614.5,524.6 623.5,524.0 633.5,523.8 642.5,522.9 651.5,522.1 661.5,521.0 670.5,521.0 679.5,520.6 689.5,519.6 698.5,518.6 707.5,517.5" fill="none" stroke="#ff00ff" stroke-width="1" shape-rendering="crispEdges"/>
<polyline points="0.0,519.8 14.9,518.3 29.9,514.6 44.8,512.6 59.8,512.8 67.2,511.6 74.7,509.3 82.2,510.1 83.5,509.5 92.5,514.4 102.5,516.8 111.5,518.0 120.5,519.1 130.5,519.8 139.5,521.7 148.5,522.9 158.5,523.3 167.5,526.8 176.5,526.8 186.5,526.2 195.5,525.9 204.5,526.4 213.5,527.5 223.5,529.9 232.5,529.8 241.5,530.0 251.5,530.8 260.5,530.5 269.5,528.0 279.5,526.2 288.5,522.9 297.5,519.5 307.5,516.0 316.5,514.4 325.5,514.0 335.5,513.1 344.5,511.8 353.5,512.3 363.5,515.6 372.5,518.0 381.5,521.7 390.5,525.9 400.5,530.0 409.5,532.1 418.5,533.5 428.5,534.7 437.5,535.6 446.5,534.1 456.5,534.2 465.5,533.9 474.5,533.1 484.5,531.6 493.5,530.6 502.5,528.9 512.5,528.0 521.5,527.4 530.5,526.8 540.5,528.0 549.5,527.2 558.5,526.0 567.5,525.9 577.5,525.5 586.5,525.8 595.5,524.0 605.5,522.9 614.5,521.9 623.5,521.2 633.5,519.6 642.5,518.6 651.5,518.2 661.5,516.0 670.5,516.5 679.5,515.5 689.5,515.3 698.5,514.4 707.5,513.1" fill="none" stroke="#f09a17" stroke-width="1" shape-rendering="crispEdges"/>
<polyline points="0.0,515.3 9.5,512.1 18.5,509.1 27.5,505.0 37.5,503.2 46.5,509.6 55.5,512.3 64.5,515.1 74.5,512.2 83.5,515.8 92.5,519.2 102.5,521.3 111.5,521.0 120.5,525.9 130.5,523.7 139.5,524.2 148.5,524.5 158.5,525.7 167.5,527.6 176.5,529.9 186.5,528.2 195.5,527.3 204.5,527.1 213.5,527.3 223.5,529.9 232.5,531.4 241.5,532.6 251.5,534.4 260.5,533.7 269.5,526.0 279.5,521.0 288.5,513.1 297.5,504.6 307.5,498.2 316.5,502.9 325.5,507.0 335.5,513.2 344.5,519.0 353.5,526.5 363.5,528.4 372.5,529.0 381.5,530.2 390.5,532.8 400.5,533.4 409.5,535.8 418.5,538.0 428.5,539.2 437.5,538.5 446.5,534.9 456.5,532.5 465.5,529.7 474.5,527.0 484.5,524.7 493.5,526.2 502.5,525.3 512.5,526.3 521.5,527.7 530.5,528.9 540.5,529.7 549.5,529.2 558.5,525.6 567.5,524.1 577.5,522.1 586.5,521.8 595.5,518.7 605.5,520.1 614.5,519.7 623.5,520.3 633.5,517.4 642.5,518.4 651.5,516.3 661.5,512.4 670.5,512.7 679.5,513.6 689.5,512.1 698.5,512.5 707.5,513.8" fill="none" stroke="#ffffff" stroke-width="1" shape-rendering="crispEdges"/>
<line x1="46.5" y1="551" x2="46.5" y2="569" stroke="#5a5d63"/>
<line x1="92.5" y1="551" x2="92.5" y2="555" stroke="#5a5d63"/>
<line x1="139.5" y1="551" x2="139.5" y2="555" stroke="#5a5d63"/>
<line x1="186.5" y1="551" x2="186.5" y2="555" stroke="#5a5d63"/>
<line x1="232.5" y1="551" x2="232.5" y2="555" stroke="#5a5d63"/>
<line x1="241.5" y1="551" x2="241.5" y2="569" stroke="#5a5d63"/>
<line x1="269.5" y1="551" x2="269.5" y2="555" stroke="#5a5d63"/>
<line x1="316.5" y1="551" x2="316.5" y2="555" stroke="#5a5d63"/>
<line x1="363.5" y1="551" x2="363.5" y2="555" stroke="#5a5d63"/>
<line x1="409.5" y1="551" x2="409.5" y2="555" stroke="#5a5d63"/>
<line x1="437.5" y1="551" x2="437.5" y2="569" stroke="#5a5d63"/>
<line x1="474.5" y1="551" x2="474.5" y2="555" stroke="#5a5d63"/>
<line x1="521.5" y1="551" x2="521.5" y2="555" stroke="#5a5d63"/>
<line x1="567.5" y1="551" x2="567.5" y2="555" stroke="#5a5d63"/>
<line x1="614.5" y1="551" x2="614.5" y2="569" stroke="#5a5d63"/>
<line x1="651.5" y1="551" x2="651.5" y2="555" stroke="#5a5d63"/>
<line x1="698.5" y1="551" x2="698.5" y2="555" stroke="#5a5d63"/>
<line x1="254" y1="444.5" x2="269" y2="444.5" stroke="#c8c8c8"/><polyline points="265,441.5 269,444.5 265,447.5" fill="none" stroke="#c8c8c8"/>
<rect x="0" y="215" width="3" height="2" fill="#ffffff"/>
</svg>

<!-- axis labels -->
<div class="ax" style="left:747px;top:130px">1.210</div>
<div class="ax" style="left:747px;top:207px">1.130</div>
<div class="ax" style="left:747px;top:284px">1.050</div>
<div class="ax" style="left:747px;top:361px">0.970</div>
<div class="ax" style="left:747px;top:438px">0.890</div>
<div class="ax" style="left:747px;top:500px">3240万</div>
<div class="ax" style="left:747px;top:533px">0</div>
<div class="ax" style="left:48px;top:553.5px;font-size:12.6px">25-03</div>
<div class="ax" style="left:243px;top:553.5px;font-size:12.6px">25-04</div>
<div class="ax" style="left:439px;top:553.5px;font-size:12.6px">25-05</div>
<div class="ax" style="left:616px;top:553.5px;font-size:12.6px">25-06</div>
<div class="ax" style="left:223px;top:438px;color:#1cbd4e">0.889</div>

<!-- volume header -->
<div class="t w" style="right:1064px;top:457px;font-size:12.7px">MA(5): 2691万</div>
<div class="t" style="left:55px;top:457px;font-size:12.7px;color:#f09a17">MA(10): 2770万</div>
<div class="t m" style="left:148px;top:457px;font-size:12.7px">MA(20): 2425万</div>

<!-- right panel -->
<div id="rp">
<div style="position:absolute;left:16px;top:3px;font-size:17.3px;font-weight:bold;line-height:22px;color:#efefef;white-space:nowrap">科创50指数ETF</div>
<svg style="position:absolute;left:143px;top:4px" width="17" height="17" viewBox="0 0 17 17"><circle cx="8.3" cy="7.8" r="7.3" fill="none" stroke="#b8b8b8" stroke-width="1.2"/><rect x="7.6" y="3.8" width="1.4" height="5.6" fill="#b8b8b8"/><rect x="7.6" y="10.6" width="1.4" height="1.5" fill="#b8b8b8"/></svg>
<div style="position:absolute;right:3px;top:0.5px;font-size:21.3px;line-height:24px;color:#e0e0e0;white-space:nowrap">588870</div>
<div style="position:absolute;left:14px;top:21.5px;font-size:37px;font-weight:bold;line-height:40px;color:#18bf50;white-space:nowrap">0.987</div>
<div style="position:absolute;right:4px;top:29px;font-size:17.5px;letter-spacing:0.15px;font-weight:bold;line-height:20px;color:#18bf50;white-space:nowrap">-0.009&nbsp;&nbsp;-0.90%</div>
<div class="sse" style="left:14.5px;letter-spacing:-1.2px">SSE</div><div class="sse" style="left:43px;letter-spacing:-0.8px">CNY</div><div class="sse" style="left:76px">15:00:12</div><div class="sse" style="left:132px">闭市</div>
<div style="position:absolute;left:252px;top:57px;width:12px;height:12px;background:#2a2d33"></div>
<div style="position:absolute;left:270px;top:57px;width:12px;height:12px;background:#2a2d33"></div>
<div style="position:absolute;left:288px;top:57px;width:12px;height:12px;background:#2a2d33"></div>
<svg style="position:absolute;left:252px;top:57px" width="48" height="12" viewBox="0 0 48 12">
 <path d="M2,10.5 L2.6,8 L8.2,2.4 L10.1,4.3 L4.5,9.9 Z" fill="#36b6d0"/><path d="M8.8,1.8 L9.6,1 L11.5,2.9 L10.7,3.7 Z" fill="#36b6d0"/>
 <path d="M20.6,9.6 L21.8,8.2 L21.8,5.4 A3.7,3.9 0 0 1 29.2,5.4 L29.2,8.2 L30.4,9.6 Z" fill="#36b6d0"/><rect x="24.3" y="9.6" width="2.4" height="1.6" rx="0.8" fill="#36b6d0"/><rect x="24.9" y="0.6" width="1.2" height="1.2" fill="#36b6d0"/>
 <rect x="37.5" y="5.2" width="9" height="1.8" fill="#36b6d0"/><rect x="41.1" y="1.6" width="1.8" height="9" fill="#36b6d0"/>
</svg>
<div style="position:absolute;left:9px;top:69px;width:294px;height:2px;background:#030405"></div>
<div style="position:absolute;left:300px;top:71px;width:3px;height:498px;background:#25272b"></div>

<div style="position:absolute;left:15px;top:75px;font-size:13px;line-height:16px;color:#d2d2d2;white-space:nowrap">净值走势</div>
<div style="position:absolute;right:10px;top:75px;font-size:13px;line-height:16px;color:#d2d2d2;white-space:nowrap">汇添富上证科创板50成份ETF</div>
<div class="hl" style="left:9px;top:91px;width:291px;background:#2c2f34"></div>
<div style="position:absolute;left:9px;top:92px;width:291px;height:9px;overflow:hidden">
 <div style="position:absolute;left:6px;top:-9px;font-size:13px;line-height:16px;color:#b4b7bc;white-space:nowrap">协议</div>
 <div style="position:absolute;right:106px;top:-9px;font-size:13px;line-height:16px;color:#dadada">0</div>
 <div style="position:absolute;right:7px;top:-9px;font-size:13px;line-height:16px;color:#dadada">0</div>
</div>
<div class="hl" style="left:9px;top:101px;width:291px;background:#34373c"></div>
<div style="position:absolute;left:12px;top:104px;font-size:13px;font-weight:bold;line-height:16px;color:#f2f2f2;white-space:nowrap">申赎清单</div>
<div style="position:absolute;left:274px;top:104px;font-size:12px;line-height:16px;color:#d0d0d0">···</div>
<div class="lab" style="top:125px">最小申赎单位份额</div><div class="val" style="top:125px;letter-spacing:0.6px;margin-right:-0.6px">300万</div>
<div class="lab" style="top:147px">现金替代比例上限</div><div class="val" style="top:147px">50%</div>
<div class="lab" style="top:169px">申购赎回允许情况</div><div class="val" style="top:169px">申购赎回皆允许</div>
<div class="lab" style="top:191px">T日预估现金差额</div><div class="val" style="top:191px;letter-spacing:0.6px;margin-right:-0.6px">-9378.49元</div>
<div class="lab" style="top:213px">T-1日单位申赎资产</div><div class="val" style="top:213px;letter-spacing:0.6px;margin-right:-0.6px">2987506.51元</div>
<div class="hl" style="left:9px;top:231px;width:291px;background:#34373c"></div>
<div style="position:absolute;left:12px;top:234px;font-size:13px;font-weight:bold;line-height:16px;color:#f2f2f2;white-space:nowrap">近5日净流入</div>
<div style="position:absolute;right:14px;top:234px;font-size:13px;font-weight:bold;line-height:16px;color:#f2f2f2;white-space:nowrap">单位(万元)</div>
<!-- bars -->
<div style="position:absolute;left:24px;top:372px;width:29px;height:28px;background:#fc2936"></div>
<div style="position:absolute;left:82px;top:401px;width:29px;height:1px;background:#1cbd4e"></div>
<div style="position:absolute;left:140px;top:372px;width:29px;height:28px;background:#fc2936"></div>
<div style="position:absolute;left:198px;top:316px;width:29px;height:85px;background:#fc2936"></div>
<div style="position:absolute;left:256px;top:288px;width:29px;height:113px;background:#fc2936"></div>
<div class="bl r" style="left:24px;top:353px">304</div>
<div class="bl g" style="left:82px;top:406px">0</div>
<div class="bl r" style="left:140px;top:353px">301</div>
<div class="bl r" style="left:198px;top:297px">899</div>
<div class="bl r" style="left:256px;top:269px">1195</div>
<div class="bx" style="left:24px;top:431px">6-10</div>
<div class="bx" style="left:82px;top:431px">6-11</div>
<div class="bx" style="left:140px;top:431px">6-12</div>
<div class="bx" style="left:198px;top:431px">6-13</div>
<div class="bx" style="left:256px;top:431px">6-16</div>
<div class="hl" style="left:9px;top:452px;width:291px;background:#34373c"></div>
<!-- table -->
<div class="th" style="left:17px;top:457px">天数</div>
<div class="th" style="right:140px;top:457px">净流天</div>
<div class="th" style="right:76px;top:457px">净流额</div>
<div class="th" style="right:10px;top:457px">净流率</div>
<div class="td w" style="left:24px;width:12px;text-align:center;top:482px">5</div>
<div class="td r" style="right:140px;top:482px">4</div>
<div class="td r" style="right:76px;top:482px">2699</div>
<div class="td r" style="right:10px;top:482px">11.28%</div>
<div class="td w" style="left:24px;width:12px;text-align:center;top:505px">10</div>
<div class="td r" style="right:140px;top:505px">6</div>
<div class="td r" style="right:76px;top:505px">3308</div>
<div class="td r" style="right:10px;top:505px">14.51%</div>
<div class="td w" style="left:24px;width:12px;text-align:center;top:528px">20</div>
<div class="td r" style="right:140px;top:528px">15</div>
<div class="td r" style="right:76px;top:528px">8465</div>
<div class="td r" style="right:10px;top:528px">46.96%</div>
<div class="td w" style="left:24px;width:12px;text-align:center;top:550px">60</div>
<div class="td r" style="right:140px;top:550px">32</div>
<div class="td r" style="right:76px;top:550px">14336</div>
<div class="td r" style="right:10px;top:550px">107.94%</div>

</div>
<svg style="position:absolute;left:808px;top:244px" width="12" height="110" viewBox="0 0 12 110"><polygon points="0.5,0.5 10.8,5.4 10.8,102 0.5,108.5" fill="#222429"/><text x="6" y="58" font-size="11" fill="#c0c0c0" text-anchor="middle" font-family="Liberation Sans">»</text></svg>
</body></html>
